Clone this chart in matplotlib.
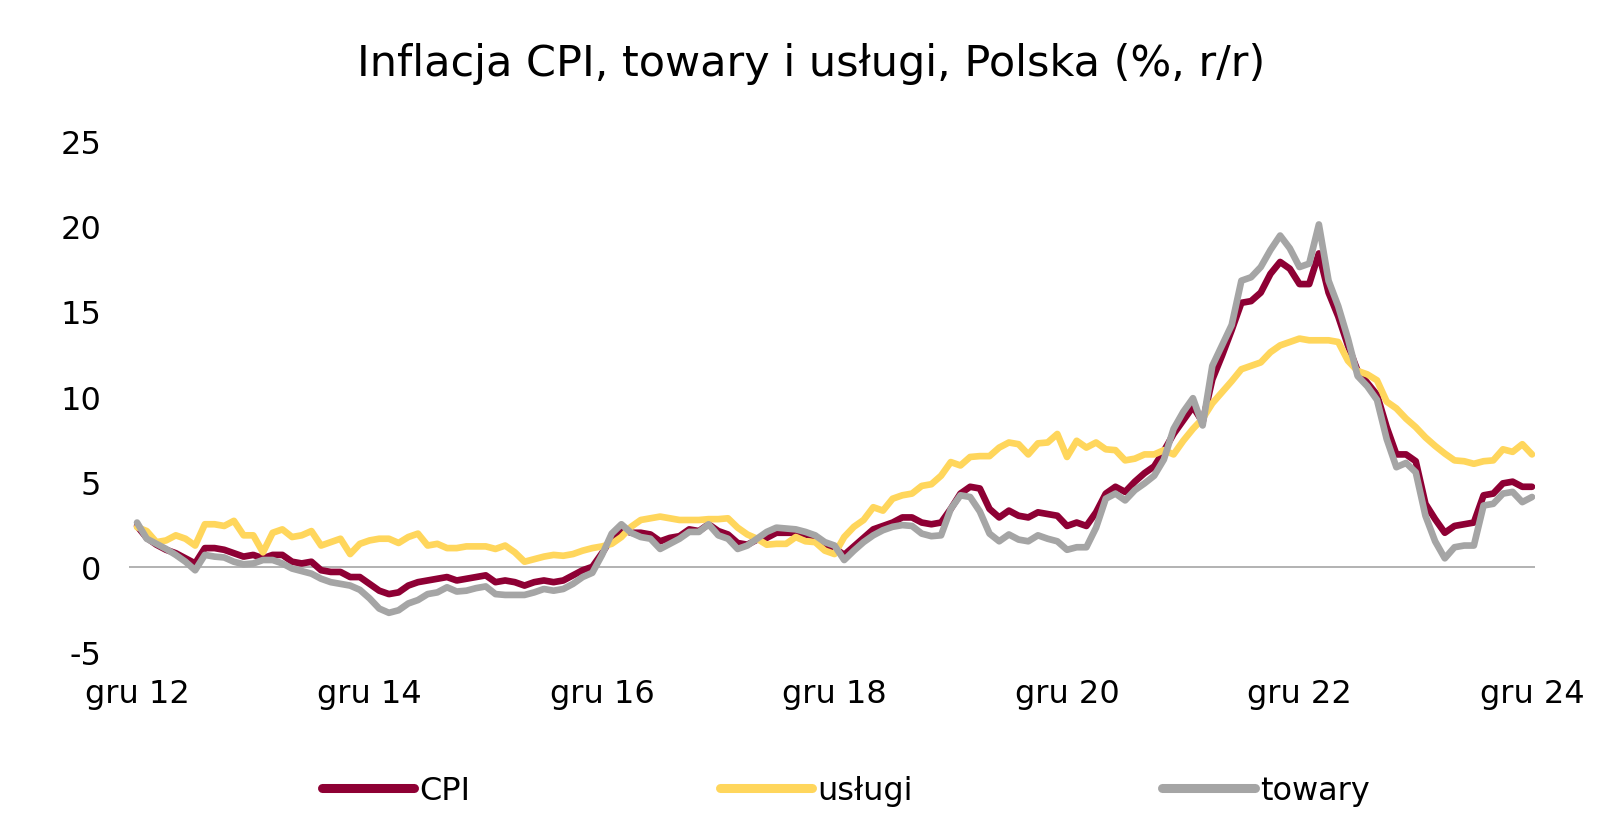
import matplotlib
matplotlib.use("Agg")
import matplotlib.pyplot as plt
import numpy as np

# Monthly data, Dec 2012 .. Dec 2024 (145 months), % y/y
cpi = [2.4,
       1.7, 1.3, 1.0, 0.8, 0.5, 0.2, 1.1, 1.1, 1.0, 0.8, 0.6, 0.7,
       0.5, 0.7, 0.7, 0.3, 0.2, 0.3, -0.2, -0.3, -0.3, -0.6, -0.6, -1.0,
       -1.4, -1.6, -1.5, -1.1, -0.9, -0.8, -0.7, -0.6, -0.8, -0.7, -0.6, -0.5,
       -0.9, -0.8, -0.9, -1.1, -0.9, -0.8, -0.9, -0.8, -0.5, -0.2, 0.0, 0.8,
       1.7, 2.2, 2.0, 2.0, 1.9, 1.5, 1.7, 1.8, 2.2, 2.1, 2.5, 2.1,
       1.9, 1.4, 1.3, 1.6, 1.7, 2.0, 2.0, 2.0, 1.9, 1.8, 1.3, 1.1,
       0.7, 1.2, 1.7, 2.2, 2.4, 2.6, 2.9, 2.9, 2.6, 2.5, 2.6, 3.4,
       4.3, 4.7, 4.6, 3.4, 2.9, 3.3, 3.0, 2.9, 3.2, 3.1, 3.0, 2.4,
       2.6, 2.4, 3.2, 4.3, 4.7, 4.4, 5.0, 5.5, 5.9, 6.8, 7.8, 8.6,
       9.4, 8.5, 11.0, 12.4, 13.9, 15.5, 15.6, 16.1, 17.2, 17.9, 17.5, 16.6,
       16.6, 18.4, 16.1, 14.7, 13.0, 11.5, 10.8, 10.1, 8.2, 6.6, 6.6, 6.2,
       3.7, 2.8, 2.0, 2.4, 2.5, 2.6, 4.2, 4.3, 4.9, 5.0, 4.7, 4.7]

uslugi = [2.33,
          2.1, 1.45, 1.55, 1.85, 1.65, 1.25, 2.5, 2.5, 2.4, 2.7, 1.85, 1.85,
          0.85, 2.0, 2.2, 1.75, 1.85, 2.1, 1.25, 1.45, 1.65, 0.75, 1.35, 1.55,
          1.65, 1.65, 1.4, 1.75, 1.95, 1.25, 1.35, 1.1, 1.1, 1.2, 1.2, 1.2,
          1.05, 1.25, 0.85, 0.3, 0.45, 0.6, 0.7, 0.65, 0.75, 0.95, 1.1, 1.2,
          1.35, 1.75, 2.35, 2.75, 2.85, 2.95, 2.85, 2.75, 2.75, 2.75, 2.8, 2.8,
          2.85, 2.3, 1.9, 1.65, 1.3, 1.35, 1.35, 1.75, 1.5, 1.45, 0.95, 0.75,
          1.75, 2.35, 2.75, 3.5, 3.3, 4.0, 4.2, 4.3, 4.75, 4.85, 5.35, 6.15,
          5.95, 6.45, 6.5, 6.5, 7.0, 7.3, 7.2, 6.6, 7.25, 7.3, 7.8, 6.45,
          7.4, 7.0, 7.3, 6.9, 6.85, 6.25, 6.35, 6.6, 6.6, 6.85, 6.6, 7.4,
          8.1, 8.7, 9.6, 10.25, 10.9, 11.6, 11.8, 12.0, 12.6, 13.0, 13.2, 13.4,
          13.3, 13.3, 13.3, 13.2, 12.1, 11.5, 11.3, 10.95, 9.7, 9.3, 8.7, 8.2,
          7.6, 7.1, 6.65, 6.25, 6.2, 6.05, 6.2, 6.25, 6.9, 6.75, 7.2, 6.6]

towary = [2.6,
          1.65, 1.35, 1.05, 0.7, 0.3, -0.2, 0.7, 0.6, 0.55, 0.3, 0.15, 0.2,
          0.4, 0.4, 0.2, -0.1, -0.25, -0.4, -0.7, -0.9, -1.0, -1.1, -1.35, -1.85,
          -2.45, -2.7, -2.55, -2.15, -1.95, -1.6, -1.5, -1.2, -1.45, -1.4, -1.25, -1.15,
          -1.6, -1.65, -1.65, -1.65, -1.5, -1.3, -1.4, -1.3, -1.0, -0.6, -0.35, 0.7,
          1.95, 2.5, 2.0, 1.75, 1.65, 1.05, 1.35, 1.65, 2.05, 2.05, 2.5, 1.85,
          1.65, 1.05, 1.25, 1.65, 2.05, 2.3, 2.25, 2.2, 2.05, 1.85, 1.45, 1.25,
          0.4, 0.95, 1.45, 1.85, 2.15, 2.35, 2.45, 2.4, 1.95, 1.8, 1.85, 3.4,
          4.2, 4.1, 3.25, 1.95, 1.5, 1.9, 1.6, 1.5, 1.85, 1.65, 1.5, 1.0,
          1.15, 1.15, 2.3, 4.0, 4.3, 3.9, 4.5, 4.9, 5.35, 6.3, 8.1, 9.1,
          9.9, 8.3, 11.8, 13.0, 14.2, 16.8, 17.0, 17.6, 18.6, 19.45, 18.7, 17.6,
          17.8, 20.1, 16.8, 15.3, 13.4, 11.2, 10.6, 9.8, 7.5, 5.85, 6.1, 5.55,
          3.0, 1.5, 0.5, 1.15, 1.25, 1.25, 3.6, 3.7, 4.3, 4.4, 3.8, 4.1]

tick_labels = ["gru 12", "gru 14", "gru 16", "gru 18", "gru 20", "gru 22", "gru 24"]
y_ticks = [-5, 0, 5, 10, 15, 20, 25]
title = "Inflacja CPI, towary i usługi, Polska (%, r/r)"

plt.rcParams['font.family'] = ['DejaVu Sans']

W, H = 1623, 837
fig = plt.figure(figsize=(W / 100, H / 100), dpi=100)
ax = fig.add_axes([129 / W, (H - 653) / H, 1406 / W, 511 / H])

x = np.arange(len(cpi))
c_cpi, c_usl, c_tow = '#8E0034', '#FFD65C', '#A5A5A5'
lw = 4.8
ax.plot(x, cpi, color=c_cpi, lw=lw, solid_joinstyle='round', solid_capstyle='round', zorder=3, label='CPI')
ax.plot(x, uslugi, color=c_usl, lw=lw, solid_joinstyle='round', solid_capstyle='round', zorder=4, label='usługi')
ax.plot(x, towary, color=c_tow, lw=lw, solid_joinstyle='round', solid_capstyle='round', zorder=5, label='towary')

ax.axhline(0, color='#A6A6A6', lw=1.2, zorder=1)

ax.set_xlim(-0.83, 144.31)
ax.set_ylim(-5, 25)
for s in ax.spines.values():
    s.set_visible(False)

ax.set_xticks(np.arange(0, len(cpi), 24))
ax.set_xticklabels(tick_labels)
ax.set_yticks(y_ticks)
ax.set_yticklabels([str(v) for v in y_ticks])
ax.tick_params(axis='both', length=0, labelsize=23, colors='black')
ax.tick_params(axis='x', pad=19)
ax.tick_params(axis='y', pad=20)

fig.text(0.5, (H - 64) / H, title, ha='center', va='center', fontsize=31)

from matplotlib.lines import Line2D
handles = [Line2D([], [], color=c, lw=6.5, solid_capstyle='round') for c in (c_cpi, c_usl, c_tow)]
fig.legend(handles, ['CPI', 'usługi', 'towary'], loc='center', bbox_to_anchor=(0.521, (H - 792) / H),
           ncol=3, frameon=False, fontsize=23, handlelength=2.9, handletextpad=0.16,
           columnspacing=7.8, borderaxespad=0)

fig.savefig('out.png', dpi=100)
